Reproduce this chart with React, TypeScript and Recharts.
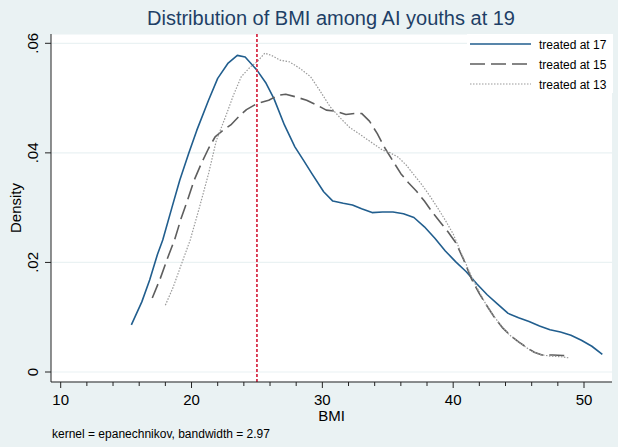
import React from 'react';
import { LineChart, Line, XAxis, YAxis, CartesianGrid, ReferenceLine, Legend, Label } from 'recharts';

// kernel density estimates
const BMI_17 = [15.4, 16.2, 16.8, 17.4, 17.8, 18.5, 19.1, 19.8, 20.4, 21.3, 22.0, 22.8, 23.5, 24.1, 25.0, 25.7, 26.3, 27.1, 27.9, 28.6, 29.2, 30.1, 30.8, 31.6, 32.3, 33.0, 33.8, 34.6, 35.4, 36.2, 37.0, 37.8, 38.6, 39.4, 40.2, 41.0, 41.8, 42.6, 43.4, 44.2, 45.0, 45.8, 46.6, 47.4, 48.2, 49.0, 49.8, 50.6, 51.4];
const DENS_17 = [0.0086, 0.0128, 0.0168, 0.0215, 0.0241, 0.0300, 0.0350, 0.0400, 0.0441, 0.0496, 0.0536, 0.0564, 0.0578, 0.0575, 0.0551, 0.0527, 0.0499, 0.0451, 0.0411, 0.0385, 0.0362, 0.0329, 0.0312, 0.0308, 0.0305, 0.0298, 0.0291, 0.0292, 0.0292, 0.0289, 0.0282, 0.0265, 0.0244, 0.0221, 0.0201, 0.0183, 0.0161, 0.0141, 0.0124, 0.0107, 0.0099, 0.0092, 0.0084, 0.0077, 0.0073, 0.0067, 0.0058, 0.0047, 0.0032];

const BMI_15 = [17.0, 17.6, 18.2, 18.7, 19.2, 19.7, 20.2, 20.7, 21.3, 21.8, 22.4, 23.0, 23.6, 24.2, 25.0, 25.9, 26.6, 27.2, 28.0, 28.8, 29.6, 30.3, 31.0, 31.8, 32.5, 33.0, 33.6, 34.2, 34.8, 35.4, 36.0, 36.6, 37.2, 37.8, 38.4, 39.0, 39.6, 40.2, 40.8, 41.4, 42.0, 42.6, 43.2, 43.8, 44.4, 45.0, 45.6, 46.2, 46.8, 47.6, 48.4, 48.9];
const DENS_15 = [0.0135, 0.0170, 0.0210, 0.0241, 0.0280, 0.0314, 0.0350, 0.0378, 0.0408, 0.0429, 0.0441, 0.0451, 0.0466, 0.0479, 0.0490, 0.0496, 0.0505, 0.0507, 0.0502, 0.0496, 0.0487, 0.0478, 0.0476, 0.0470, 0.0472, 0.0472, 0.0458, 0.0435, 0.0408, 0.0385, 0.0362, 0.0345, 0.0330, 0.0312, 0.0292, 0.0274, 0.0256, 0.0236, 0.0205, 0.0170, 0.0143, 0.0120, 0.0098, 0.0080, 0.0066, 0.0055, 0.0045, 0.0036, 0.0031, 0.0031, 0.0030, 0.0029];

const BMI_13 = [18.0, 18.6, 19.2, 19.9, 20.6, 21.3, 21.9, 22.6, 23.2, 23.8, 24.5, 25.0, 25.6, 26.1, 26.8, 27.5, 28.3, 29.1, 29.8, 30.6, 31.4, 32.1, 32.8, 33.4, 34.0, 34.6, 35.2, 35.8, 36.4, 37.0, 37.6, 38.2, 38.8, 39.4, 40.0, 40.6, 41.2, 41.8, 42.4, 43.0, 43.6, 44.2, 44.8, 45.4, 46.0, 46.6, 47.4, 48.2, 48.8];
const DENS_13 = [0.0122, 0.0155, 0.0195, 0.0241, 0.0300, 0.0362, 0.0423, 0.0466, 0.0505, 0.0539, 0.0557, 0.0566, 0.0582, 0.0578, 0.0569, 0.0566, 0.0554, 0.0539, 0.0514, 0.0484, 0.0463, 0.0446, 0.0435, 0.0425, 0.0415, 0.0405, 0.0400, 0.0392, 0.0378, 0.0360, 0.0342, 0.0322, 0.0300, 0.0277, 0.0252, 0.0218, 0.0185, 0.0155, 0.0128, 0.0105, 0.0087, 0.0070, 0.0058, 0.0048, 0.0038, 0.0032, 0.0029, 0.0028, 0.0026];

const X_TICKS = [10, 12, 14, 16, 18, 20, 22, 24, 26, 28, 30, 32, 34, 36, 38, 40, 42, 44, 46, 48, 50];
const Y_TICKS = [0, 0.02, 0.04, 0.06];
const Y_TICK_LABELS = ['0', '.02', '.04', '.06'];
const CUTOFF = 25;

const TITLE = 'Distribution of BMI among AI youths at 19';
const NOTE = 'kernel = epanechnikov, bandwidth = 2.97';

const BG = '#eaf2f3';
const AXIS = '#222';

const toPoints = (xs: number[], ys: number[]) => xs.map((x, i) => ({ bmi: x, density: ys[i] }));

const series = [
  { name: 'treated at 17', data: toPoints(BMI_17, DENS_17), stroke: '#215e8e', width: 1.6, dash: undefined },
  { name: 'treated at 15', data: toPoints(BMI_15, DENS_15), stroke: '#5e5e5e', width: 1.6, dash: '15 6' },
  { name: 'treated at 13', data: toPoints(BMI_13, DENS_13), stroke: '#9a9a9a', width: 1.2, dash: '1.5 1.5' },
];
const ORDER = series.map((s) => s.name);

function XTick({ x, y, payload }: any) {
  const major = payload.value % 10 === 0;
  return (
    <g>
      <line x1={x} x2={x} y1={y} y2={y + (major ? 6 : 4)} stroke={AXIS} />
      {major && (
        <text x={x} y={y + 23} textAnchor="middle" fontSize={15} fill="#000">
          {payload.value}
        </text>
      )}
    </g>
  );
}

function YTick({ x, y, payload }: any) {
  const idx = Y_TICKS.indexOf(payload.value);
  const tx = x - 13;
  return (
    <g>
      <line x1={x - 6} x2={x} y1={y} y2={y} stroke={AXIS} />
      <text x={tx} y={y} textAnchor="middle" fontSize={15} fill="#000" transform={`rotate(-90 ${tx} ${y})`}>
        {Y_TICK_LABELS[idx]}
      </text>
    </g>
  );
}

// legend payload comes back in reverse; keep the series order
const renderLegend = (props: any) => {
  const items = [...(props.payload || [])].sort((a: any, b: any) => ORDER.indexOf(a.value) - ORDER.indexOf(b.value));
  return (
    <svg width={146} height={59} style={{ display: 'block', background: '#fff' }}>
      {items.map((item: any, i: number) => {
        const cy = 10 + 20 * i;
        return (
          <g key={item.value}>
            <line
              x1={3}
              x2={64}
              y1={cy}
              y2={cy}
              stroke={item.color}
              strokeWidth={item.payload?.strokeWidth ?? 1.5}
              strokeDasharray={item.payload?.strokeDasharray}
            />
            <text x={72} y={cy + 4.5} fontSize={12} fill="#000">
              {item.value}
            </text>
          </g>
        );
      })}
    </svg>
  );
};

export default function App() {
  return (
    <div
      style={{
        position: 'absolute',
        left: 0,
        top: 0,
        width: 618,
        height: 447,
        background: BG,
        fontFamily: '"Liberation Sans", Arial, sans-serif',
      }}
    >
      <LineChart width={618} height={447} margin={{ top: 34, right: 6, bottom: 0, left: 0 }}>
        <CartesianGrid vertical={false} fill="#fff" stroke={BG} strokeWidth={1.2} />
        <XAxis
          type="number"
          dataKey="bmi"
          domain={[9.2585, 52.14]}
          allowDataOverflow
          ticks={X_TICKS}
          interval={0}
          height={65}
          tickSize={0}
          tickMargin={0}
          tickLine={false}
          tick={<XTick />}
          axisLine={{ stroke: AXIS }}
        >
          <Label
            content={({ viewBox }: any) => (
              <text x={viewBox.x + viewBox.width / 2} y={viewBox.y + 39} textAnchor="middle" fontSize={15} fill="#000">
                BMI
              </text>
            )}
          />
        </XAxis>
        <YAxis
          type="number"
          dataKey="density"
          domain={[-0.001825, 0.061698]}
          allowDataOverflow
          ticks={Y_TICKS}
          interval={0}
          width={51}
          tickSize={0}
          tickMargin={0}
          tickLine={false}
          tick={<YTick />}
          axisLine={{ stroke: AXIS }}
        >
          <Label
            content={({ viewBox }: any) => {
              const lx = 20.5;
              const ly = viewBox.y + viewBox.height / 2;
              return (
                <text x={lx} y={ly} textAnchor="middle" fontSize={15} fill="#000" transform={`rotate(-90 ${lx} ${ly})`}>
                  Density
                </text>
              );
            }}
          />
        </YAxis>
        {series.map((s) => (
          <Line
            key={s.name}
            name={s.name}
            data={s.data}
            dataKey="density"
            type="linear"
            stroke={s.stroke}
            strokeWidth={s.width}
            strokeDasharray={s.dash}
            strokeLinejoin="round"
            dot={false}
            activeDot={false}
            isAnimationActive={false}
          />
        ))}
        <ReferenceLine x={CUTOFF} stroke="#d7304a" strokeWidth={1.8} strokeDasharray="3 2" />
        <Legend
          layout="horizontal"
          verticalAlign="middle"
          align="center"
          content={renderLegend}
          wrapperStyle={{ position: 'absolute', left: 467, top: 34, width: 146, height: 59, margin: 0 }}
        />
      </LineChart>
      <svg width={618} height={447} style={{ position: 'absolute', left: 0, top: 0, pointerEvents: 'none' }}>
        <text x={331} y={25} textAnchor="middle" fontSize={20} fill="#1e3f66">
          {TITLE}
        </text>
        <text x={52} y={438} fontSize={12} fill="#000">
          {NOTE}
        </text>
      </svg>
    </div>
  );
}
